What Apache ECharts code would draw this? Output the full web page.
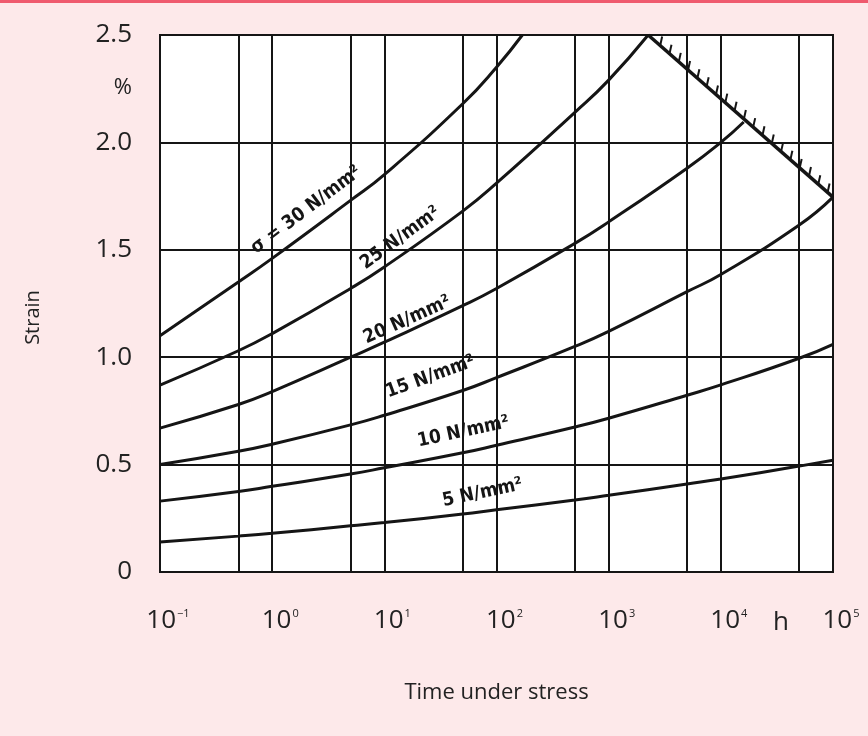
<!DOCTYPE html>
<html><head><meta charset="utf-8">
<script src="https://cdn.jsdelivr.net/npm/echarts@6/dist/echarts.min.js"></script>
<style>html,body{margin:0;padding:0;background:#fde9ea;}#main{width:868px;height:736px;}</style>
</head><body><div id="main"></div>
<script>
// ---- data ----
const midGridTimes = [0.5, 5, 50, 500, 5000, 50000];
const stressLabels = ['σ = 30 N/mm²', '25 N/mm²', '20 N/mm²', '15 N/mm²', '10 N/mm²', '5 N/mm²'];

const time30 = [0.1, 0.5, 1, 5, 10, 50, 100, 170];
const strain30 = [1.10, 1.35, 1.46, 1.73, 1.85, 2.18, 2.35, 2.50];
const time25 = [0.1, 0.5, 1, 5, 10, 50, 100, 500, 1000, 2250];
const strain25 = [0.87, 1.03, 1.11, 1.32, 1.42, 1.68, 1.81, 2.14, 2.29, 2.50];
const time20 = [0.1, 0.5, 1, 5, 10, 50, 100, 500, 1000, 5000, 10000, 16000];
const strain20 = [0.67, 0.78, 0.84, 1.00, 1.07, 1.24, 1.32, 1.53, 1.63, 1.88, 2.00, 2.095];
const time15 = [0.1, 0.5, 1, 5, 10, 50, 100, 500, 1000, 5000, 10000, 50000, 100000];
const strain15 = [0.50, 0.562, 0.595, 0.685, 0.73, 0.845, 0.905, 1.05, 1.12, 1.305, 1.385, 1.615, 1.745];
const time10 = [0.1, 0.5, 1, 5, 10, 50, 100, 500, 1000, 5000, 10000, 50000, 100000];
const strain10 = [0.33, 0.375, 0.399, 0.456, 0.485, 0.555, 0.59, 0.675, 0.716, 0.823, 0.871, 0.995, 1.06];
const time5 = [0.1, 0.5, 1, 5, 10, 50, 100, 500, 1000, 5000, 10000, 50000, 100000];
const strain5 = [0.14, 0.167, 0.18, 0.215, 0.23, 0.27, 0.29, 0.335, 0.357, 0.41, 0.433, 0.493, 0.52];

const limitTime = [2250, 100000];
const limitStrain = [2.5, 1.745];

// ---- layout (label anchors: [time, strain, angle]) ----
const labelPlace = [[2.01, 1.685, 37], [13.9, 1.555, 36], [16, 1.173, 24], [25.8, 0.908, 20], [50.7, 0.652, 12], [75, 0.368, 12]];

const curves = [[time30, strain30], [time25, strain25], [time20, strain20], [time15, strain15], [time10, strain10], [time5, strain5]];
const INK = '#151515';
const SUP = {'-': '−', '0': '0', '1': '1', '2': '2', '3': '3', '4': '4', '5': '5'};

const chart = echarts.init(document.getElementById('main'), null, {renderer: 'canvas'});

const series = curves.map((c, i) => ({
  type: 'line',
  name: stressLabels[i],
  data: c[0].map((t, k) => [t, c[1][k]]),
  smooth: 0.5,
  showSymbol: false,
  symbol: 'none',
  silent: true,
  lineStyle: {color: INK, width: 3},
  z: 5,
  markPoint: {
    symbol: 'circle', symbolSize: 0, silent: true, animation: false,
    data: [{coord: [labelPlace[i][0], labelPlace[i][1]]}],
    label: {
      show: true, position: 'inside', formatter: stressLabels[i], rotate: labelPlace[i][2],
      fontFamily: 'DejaVu Sans Condensed', fontWeight: 'bold', fontSize: 19, color: INK
    }
  }
}));

series.push({
  type: 'line', name: 'grid5', data: [], silent: true,
  markLine: {
    symbol: ['none', 'none'], silent: true, animation: false,
    label: {show: false},
    lineStyle: {color: INK, width: 2, type: 'solid'},
    data: midGridTimes.map(t => ({xAxis: t}))
  }
});

series.push({
  type: 'line', name: 'limit', silent: true, symbol: 'none', z: 6,
  data: limitTime.map((t, k) => [t, limitStrain[k]]),
  lineStyle: {color: INK, width: 3.5}
});

series.push({
  type: 'custom', name: 'hatch', silent: true, z: 6,
  data: [[limitTime[0], limitStrain[0]]],
  renderItem: function (params, api) {
    const p0 = api.coord([limitTime[0], limitStrain[0]]);
    const p1 = api.coord([limitTime[1], limitStrain[1]]);
    const children = [];
    const step = 9.3;
    const slope = (p1[1] - p0[1]) / (p1[0] - p0[0]);
    for (let x = p0[0] + 12; x < p1[0] - 4; x += step) {
      const y = p0[1] + slope * (x - p0[0]);
      children.push({type: 'line', shape: {x1: x, y1: y, x2: x + 2, y2: y - 9}, style: {stroke: INK, lineWidth: 2}});
    }
    return {type: 'group', children: children};
  }
});

const supText = e => String(e).split('').map(ch => SUP[ch]).join('');

chart.setOption({
  backgroundColor: '#fde9ea',
  animation: false,
  textStyle: {fontFamily: 'Open Sans', color: '#222'},
  grid: {left: 160, right: 35, top: 35, bottom: 164, show: true, backgroundColor: '#ffffff', borderColor: INK, borderWidth: 2},
  xAxis: {
    type: 'log', logBase: 10, min: 0.1, max: 100000, splitNumber: 6,
    name: 'Time under stress', nameLocation: 'middle', nameGap: 110,
    nameTextStyle: {fontFamily: 'Open Sans', fontSize: 22, color: '#222'},
    axisLine: {show: true, lineStyle: {color: INK, width: 2}},
    axisTick: {show: false},
    splitLine: {show: true, lineStyle: {color: INK, width: 2}},
    axisLabel: {
      margin: 36,
      formatter: v => '{p|}{b|10}{s|' + supText(Math.round(Math.log10(v))) + '}',
      rich: {
        p: {width: 16},
        b: {fontFamily: 'Open Sans', fontSize: 26, color: '#222'},
        s: {fontFamily: 'Open Sans', fontSize: 11, color: '#222', verticalAlign: 'top', padding: [0, 0, 0, 1]}
      }
    }
  },
  yAxis: {
    type: 'value', min: 0, max: 2.5, interval: 0.5,
    name: 'Strain', nameLocation: 'middle', nameGap: 117,
    nameTextStyle: {fontFamily: 'Open Sans', fontSize: 20, color: '#222', padding: [0, 28, 0, 0]},
    axisLine: {show: true, lineStyle: {color: INK, width: 2}},
    axisTick: {show: false},
    splitLine: {show: true, lineStyle: {color: INK, width: 2}},
    axisLabel: {margin: 28, fontFamily: 'Open Sans', fontSize: 26, color: '#222',
      formatter: v => v === 0 ? '0' : v.toFixed(1)}
  },
  graphic: [
    {type: 'rect', left: 0, top: 0, shape: {width: 868, height: 3}, style: {fill: '#ef5a6e'}, silent: true},
    {type: 'text', x: 132, y: 88, style: {text: '%', font: '22px "Open Sans"', fill: '#222', textAlign: 'right', textVerticalAlign: 'middle'}, silent: true},
    {type: 'text', x: 781, y: 623, style: {text: 'h', font: '26px "Open Sans"', fill: '#222', textAlign: 'center', textVerticalAlign: 'middle'}, silent: true}
  ],
  series: series
});
</script></body></html>
